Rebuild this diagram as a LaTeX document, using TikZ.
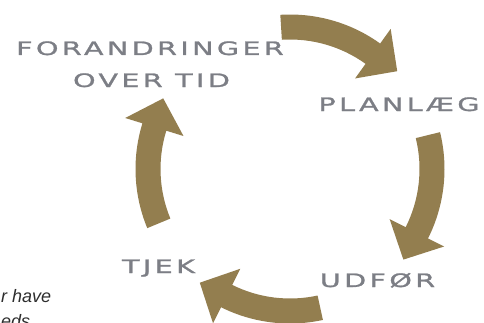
\documentclass[tikz,border=0pt]{standalone}
\usepackage{fontspec}
\setmainfont{Liberation Sans}
\newfontfamily\labfont[FakeStretch=1.55,LetterSpace=18,FakeBold=1.3]{DejaVu Sans}
\usetikzlibrary{calc}
\definecolor{gold}{RGB}{147,126,79}
\definecolor{labgray}{RGB}{124,126,133}
\definecolor{txtdark}{RGB}{45,45,45}
\tikzset{
  lbl/.style={font=\labfont\fontsize{18.5}{20}\selectfont, text=labgray, inner sep=0pt, anchor=base},
  cyc/.style={fill=gold},
  body/.style={font=\itshape\fontsize{18}{20}\selectfont, text=txtdark, inner sep=0pt, anchor=base west},
}
\def\R{142pt}
\def\Ro{154.5pt}
\def\Ri{129.5pt}
\def\Rh{172.5pt}
\def\Rl{111.5pt}
\def\L{30pt}
\newcommand{\cycarrow}[2]{%
  \fill[cyc] ($(C)+(#1:\Ro)$) arc[start angle=#1, end angle=#2, radius=\Ro]
    -- ($(C)+(#2:\Rh)$) -- ($(C)+(#2:\R)+(#2-90:\L)$) -- ($(C)+(#2:\Rl)$)
    -- ($(C)+(#2:\Ri)$) arc[start angle=#2, end angle=#1, radius=\Ri] -- cycle;
}
\begin{document}
\begin{tikzpicture}[x=1pt,y=1pt]
\useasboundingbox (0,0) rectangle (484,322);
\clip (0,0) rectangle (484,322);
\coordinate (C) at (290,153);
\cycarrow{93.6}{54.3}
\cycarrow{13.8}{-26.7}
\cycarrow{-77.7}{-116.5}
\cycarrow{202.5}{162.8}
\node[lbl] (forand) at (150,267) {FORANDRINGER};
\node[lbl] (overtid) at (151.5,235) {OVER TID};
\node[lbl] (plan) at (399,211) {PLANLÆG};
\node[lbl] (tjek) at (158.5,49) {TJEK};
\node[lbl] (udfor) at (377.5,35) {UDFØR};
\node[body] (t1) at (1,20) {r have};
\node[body] (t2) at (1,-5) {eds};
\end{tikzpicture}
\end{document}
